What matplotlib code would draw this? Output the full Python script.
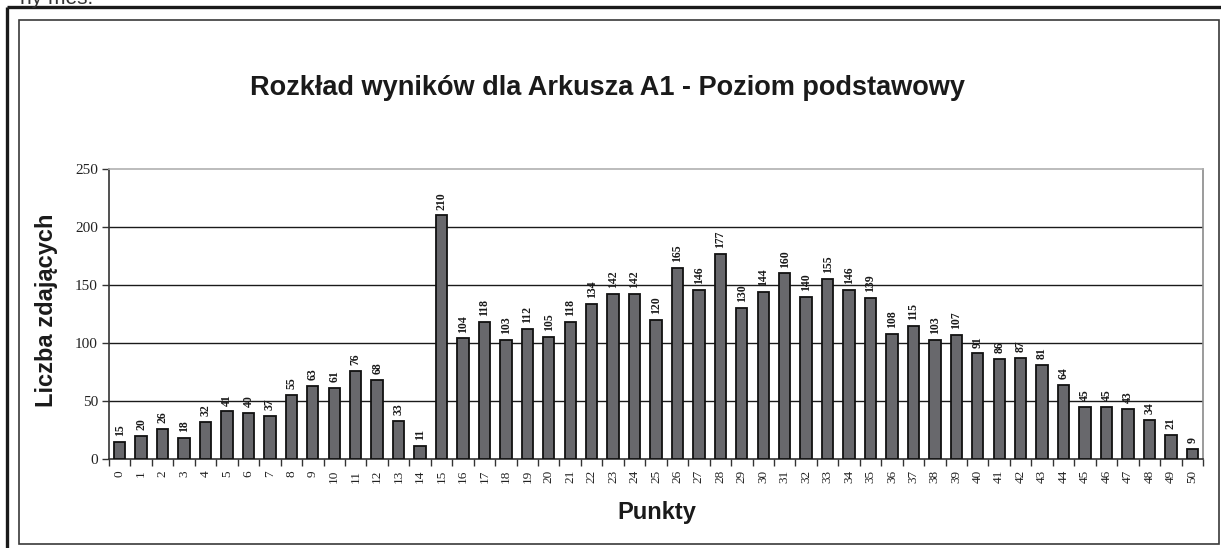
import matplotlib
matplotlib.use("Agg")
import matplotlib.pyplot as plt
from matplotlib.lines import Line2D
from matplotlib.patches import Rectangle

points = list(range(51))
counts = [15, 20, 26, 18, 32, 41, 40, 37, 55, 63, 61, 76, 68, 33, 11, 210, 104, 118, 103, 112,
          105, 118, 134, 142, 142, 120, 165, 146, 177, 130, 144, 160, 140, 155, 146, 139, 108,
          115, 103, 107, 91, 86, 87, 81, 64, 45, 45, 43, 34, 21, 9]
yticks = [0, 50, 100, 150, 200, 250]
title = "Rozkład wyników dla Arkusza A1 - Poziom podstawowy"
ylabel = "Liczba zdających"
xlabel = "Punkty"

W, H = 1221, 548
fig = plt.figure(figsize=(W / 100, H / 100), dpi=100)

# overlay for frames (pixel coordinates)
ov = fig.add_axes([0, 0, 1, 1], zorder=0)
ov.set_xlim(0, W)
ov.set_ylim(H, 0)
ov.axis("off")
ov.add_line(Line2D([7, W], [7, 7], color="#1a1a1a", lw=2.4, solid_capstyle="butt"))
ov.add_line(Line2D([7, 7], [7, H], color="#1a1a1a", lw=2.4, solid_capstyle="butt"))
ov.add_patch(Rectangle((19, 20), 1219 - 19, 544 - 20, fill=False, edgecolor="#3a3a3a", lw=1.2))
ov.text(20, -2, "ny mes.", fontsize=15, family="Liberation Sans", color="#333333",
        va="center", ha="left")
ov.text(607, 88, title, fontsize=19.5, fontweight="bold", family="Liberation Sans",
        ha="center", va="center", color="#1a1a1a")
ov.text(47, 310, ylabel, fontsize=17, fontweight="bold", family="Liberation Sans",
        ha="center", va="center", rotation=90, color="#1a1a1a")
ov.text(657, 512, xlabel, fontsize=17, fontweight="bold", family="Liberation Sans",
        ha="center", va="center", color="#1a1a1a")

left, right, top, bottom = 109, 1203, 169, 459
ax = fig.add_axes([left / W, (H - bottom) / H, (right - left) / W, (bottom - top) / H], zorder=1)
ax.patch.set_alpha(0)
ax.bar(points, counts, width=0.53, color="#68686c", edgecolor="#111111", linewidth=1.3, zorder=3)
for x, v in zip(points, counts):
    ax.text(x, v + 5, str(v), rotation=90, ha="center", va="bottom", fontsize=8.5,
            fontweight="bold", family="Liberation Serif", color="#1a1a1a", zorder=4)

ax.set_xlim(-0.5, 50.5)
ax.set_ylim(0, 250)
ax.set_yticks(yticks)
ax.set_yticklabels([str(t) for t in yticks], family="Liberation Serif", fontsize=11, color="#222222")
ax.set_xticks(points)
ax.set_xticklabels([str(p) for p in points], rotation=90, family="Liberation Serif",
                   fontsize=9.5, color="#222222")
ax.set_xticks([p - 0.5 for p in points] + [50.5], minor=True)
ax.tick_params(axis="x", which="major", length=0, pad=8)
ax.tick_params(axis="x", which="minor", length=5, width=1, color="#333333", direction="out")
ax.tick_params(axis="y", length=5, width=1, color="#333333", pad=3)
for t in [50, 100, 150, 200]:
    ax.axhline(t, color="#1a1a1a", lw=1.0, zorder=1)
ax.spines["left"].set_color("#333333")
ax.spines["bottom"].set_color("#333333")
ax.spines["left"].set_linewidth(1.2)
ax.spines["bottom"].set_linewidth(1.2)
ax.spines["top"].set_color("#b0b0b0")
ax.spines["right"].set_color("#8a8a8a")
ax.spines["top"].set_linewidth(1.2)
ax.spines["right"].set_linewidth(1.2)

fig.savefig("out.png", dpi=100, facecolor="white")
